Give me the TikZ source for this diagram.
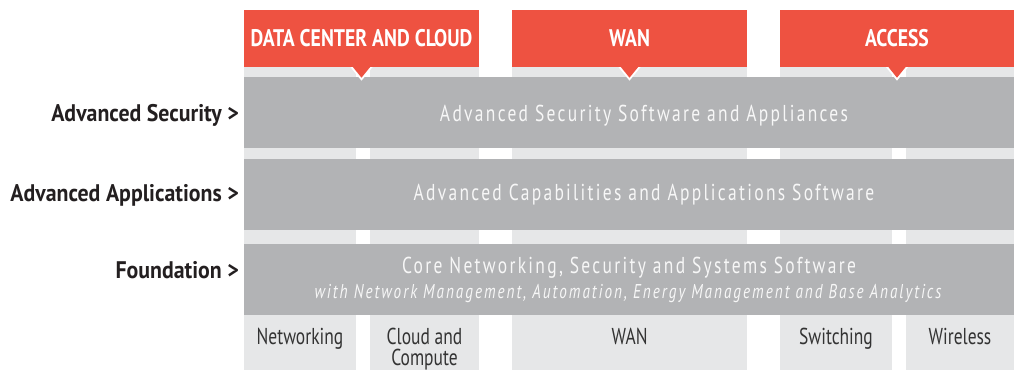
\documentclass[tikz,border=0pt]{standalone}
\usepackage{fontspec}
\setmainfont[FakeStretch=0.76]{PT Sans}
\newfontfamily\bandfont[FakeStretch=0.76,LetterSpace=10]{PT Sans}
\newfontfamily\labelfont[FakeStretch=0.91]{PT Sans}
\newfontfamily\headfont[FakeStretch=0.82]{PT Sans}
\usepackage{tikz}
\usetikzlibrary{positioning}
\usepackage{xcolor}
\definecolor{hdrred}{HTML}{EE5241}
\definecolor{bandgrey}{HTML}{B2B3B5}
\definecolor{colgrey}{HTML}{E6E7E8}
\definecolor{bandtext}{HTML}{F7F7F7}
\definecolor{labeltext}{HTML}{231F20}
\definecolor{coltext}{HTML}{333333}

\begin{document}
\begin{tikzpicture}[x=1pt, y=-1pt, inner sep=0pt,
    colbox/.style={fill=colgrey, minimum height=303pt},
    header/.style={fill=hdrred, text=white, minimum height=57pt, text height=17pt, text depth=0pt, font=\fontsize{24}{26}\headfont\bfseries},
    band/.style={fill=bandgrey, minimum width=770pt, minimum height=71pt},
    bandlabel/.style={anchor=base, text=bandtext, font=\fontsize{23}{25}\bandfont},
    layer/.style={anchor=base east, text=labeltext, font=\fontsize{24}{26}\labelfont\bfseries},
    collabel/.style={anchor=north, align=center, text=coltext, font=\fontsize{23}{21}\selectfont}]
            \useasboundingbox (0,0) rectangle (1016,371);
            % columns behind the layers
            \node[colbox, minimum width=112pt] (netcol) at (300,218.5) {};
            \node[colbox, minimum width=109pt] (cloudcol) at (424.5,218.5) {};
            \node[colbox, minimum width=235pt] (wancol) at (629.5,218.5) {};
            \node[colbox, minimum width=112pt] (switchcol) at (836,218.5) {};
            \node[colbox, minimum width=108pt] (wirelesscol) at (960,218.5) {};
            
            \node[band] (secband) at (629,112.5) {};
            \node[band] (appband) at (629,194.5) {};
            \node[band] (coreband) at (629,279.5) {};
            \node[bandlabel] (sectext) at (644,122) {Advanced Security Software and Appliances};
            \node[bandlabel] (apptext) at (644,201) {Advanced Capabilities and Applications Software};
            \node[bandlabel] (coretext) at (629,273) {Core Networking, Security and Systems Software};
            \node[bandlabel, font=\fontsize{20}{22}\bandfont\itshape] (coresub) at (628,298) {with Network Management, Automation, Energy Management and Base Analytics};
            
            \node[header, minimum width=235pt] (dcc) at (361.5,38.5) {DATA CENTER AND CLOUD};
            \node[header, minimum width=235pt] (wan) at (629.5,38.5) {WAN};
            \node[header, minimum width=234pt] (access) at (897,38.5) {ACCESS};
            % pointers under the headers
            \foreach \h in {dcc,wan,access} {
                \fill[white] ([xshift=-11pt]\h.south) -- ([yshift=-13.5pt]\h.south) -- ([xshift=11pt]\h.south) -- cycle;
                \fill[hdrred] ([xshift=-8.5pt]\h.south) -- ([yshift=-10.5pt]\h.south) -- ([xshift=8.5pt]\h.south) -- cycle;
            }
            
            \node[layer] (seclabel) at (239,122) {Advanced Security >};
            \node[layer] (applabel) at (239,202) {Advanced Applications >};
            \node[layer] (foundlabel) at (239,278) {Foundation >};
            
            \node[collabel] (netlabel) at (netcol |- 0,328) {Networking};
            \node[collabel] (cloudlabel) at (cloudcol |- 0,328) {Cloud and\\Compute};
            \node[collabel] (wanlabel) at (wancol |- 0,328) {WAN};
            \node[collabel] (switchlabel) at (switchcol |- 0,328) {Switching};
            \node[collabel] (wirelesslabel) at (wirelesscol |- 0,328) {Wireless};
        \end{tikzpicture}
\end{document}
